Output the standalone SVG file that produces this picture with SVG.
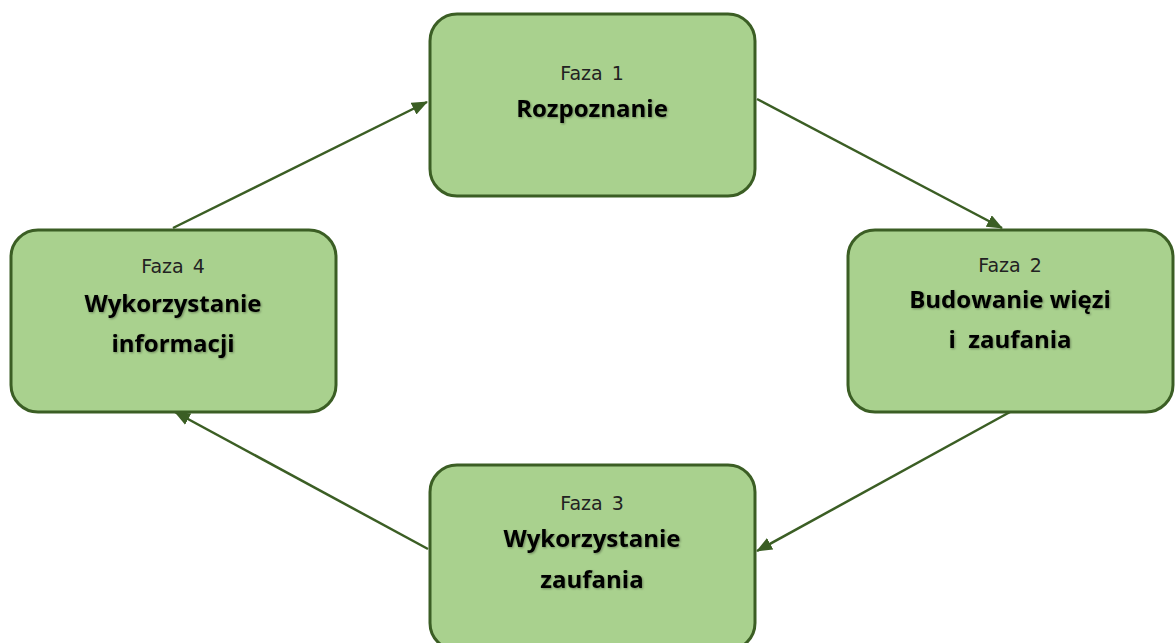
<svg xmlns="http://www.w3.org/2000/svg" width="1176" height="643" viewBox="0 0 1176 643">
  <style>
    .box { fill: #a9d18e; stroke: #3b5e24; stroke-width: 3; }
    .phase { font-family: "DejaVu Sans", Verdana, sans-serif; font-size: 19px; fill: #222222; text-anchor: middle; word-spacing: 3px; }
    .title { font-family: "Open Sans", "Liberation Sans", sans-serif; font-weight: 700; font-size: 24px; fill: #000000; text-anchor: middle; filter: url(#soft); white-space: pre; }
    .link { fill: none; stroke: #3b5e24; stroke-width: 2.5; marker-end: url(#arrow); }
  </style>
  <defs>
    <marker id="arrow" markerUnits="userSpaceOnUse" markerWidth="16" markerHeight="13" refX="15" refY="6.5" orient="auto">
      <path d="M0,0 L16,6.5 L0,13 Z" fill="#3b5e24"/>
    </marker>
    <filter id="soft" x="-10%" y="-30%" width="120%" height="160%">
      <feDropShadow dx="1" dy="1" stdDeviation="0.8" flood-color="#000000" flood-opacity="0.35"/>
    </filter>
  </defs>
  <rect width="1176" height="643" fill="#ffffff"/>

  <g id="connectors">
    <line class="link" x1="757" y1="99" x2="1002" y2="228"/>
    <line class="link" x1="1010" y1="412" x2="757" y2="551"/>
    <line class="link" x1="428" y1="549" x2="175" y2="412"/>
    <line class="link" x1="173" y1="228" x2="427" y2="102"/>
  </g>

  <g id="phase1">
    <rect class="box" x="430" y="14" width="325" height="182" rx="27"/>
    <text class="phase" x="592" y="80">Faza 1</text>
    <text class="title" x="592" y="117">Rozpoznanie</text>
  </g>

  <g id="phase2">
    <rect class="box" x="848" y="230" width="325" height="182" rx="27"/>
    <text class="phase" x="1010" y="272">Faza 2</text>
    <text class="title" x="1010" y="308">Budowanie więzi</text>
    <text class="title" x="1010" y="348">i  zaufania</text>
  </g>

  <g id="phase3">
    <rect class="box" x="430" y="465" width="325" height="185" rx="27"/>
    <text class="phase" x="592" y="510">Faza 3</text>
    <text class="title" x="592" y="547">Wykorzystanie</text>
    <text class="title" x="592" y="588">zaufania</text>
  </g>

  <g id="phase4">
    <rect class="box" x="11" y="230" width="325" height="182" rx="27"/>
    <text class="phase" x="173" y="273">Faza 4</text>
    <text class="title" x="173" y="312">Wykorzystanie</text>
    <text class="title" x="173" y="352">informacji</text>
  </g>
</svg>
